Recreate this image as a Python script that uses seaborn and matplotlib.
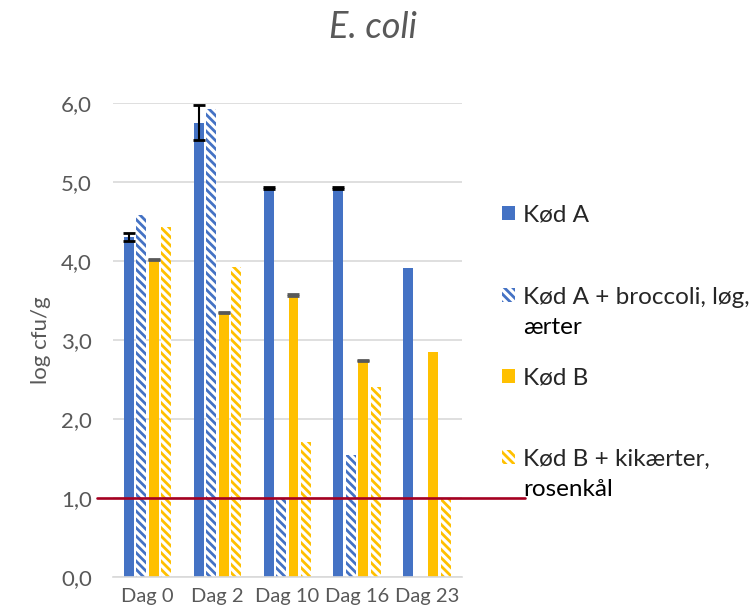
import numpy as np
import pandas as pd
import matplotlib
matplotlib.use("Agg")
import matplotlib.pyplot as plt
import seaborn as sns
from matplotlib.patches import Patch

days = ["Dag 0", "Dag 2", "Dag 10", "Dag 16", "Dag 23"]
series = ["Kød A", "Kød A + broccoli, løg, ærter", "Kød B", "Kød B + kikærter, rosenkål"]
# legend labels wrap the way Excel shows them
label_lines = [["Kød A"], ["Kød A + broccoli, løg,", "ærter"], ["Kød B"],
               ["Kød B + kikærter,", "rosenkål"]]
kod_a = [4.30, 5.75, 4.92, 4.92, 3.91]
kod_a_veg = [4.58, 5.92, 1.00, 1.54, 0.0]
kod_b = [4.02, 3.35, 3.57, 2.74, 2.85]
kod_b_veg = [4.43, 3.92, 1.71, 2.40, 1.00]
err_a = [0.05, 0.22, 0.01, 0.01, 0.0]
err_b = [0.01, 0.01, 0.01, 0.01, 0.0]
limit = 1.0

blue = "#4472C4"
yellow = "#FFC000"
colors = [blue, blue, yellow, yellow]
hatched = [False, True, False, True]
hatch = "\\\\\\\\"

df = pd.DataFrame({
    "day": days * 4,
    "series": np.repeat(series, len(days)),
    "value": kod_a + kod_a_veg + kod_b + kod_b_veg,
})

sns.set_style("white")
plt.rcParams["font.family"] = ["Lato", "DejaVu Sans"]
plt.rcParams["hatch.linewidth"] = 2.0

fig = plt.figure(figsize=(7.51, 6.16), dpi=100)
ax = fig.add_axes([0.150, 0.063, 0.465, 0.770])

sns.barplot(data=df, x="day", y="value", hue="series", hue_order=series,
            palette=colors, width=0.714, gap=0.2, errorbar=None, ax=ax,
            legend=False, saturation=1)

for cont, col, h in zip(ax.containers, colors, hatched):
    for p in cont.patches:
        p.set_linewidth(0)
        if h:
            p.set_facecolor("white")
            p.set_edgecolor(col)
            p.set_hatch(hatch)

# error bars on the plain series
for idx, errs, ecol in [(0, err_a, "black"), (2, err_b, "#595959")]:
    cont = ax.containers[idx]
    for p, e in zip(cont.patches, errs):
        y = p.get_height()
        if y <= 0 or e <= 0:
            continue
        x = p.get_x() + p.get_width() / 2
        ax.errorbar(x, y, yerr=e, fmt="none", ecolor=ecol, elinewidth=1.5,
                    capsize=4.5, capthick=2.0, zorder=5)

ticks = np.arange(0, 6.01, 1.0)
ax.set_ylim(0, 6)
ax.set_xlim(-0.5, 4.5)
ax.set_yticks(ticks)
ax.set_yticklabels([f"{v:.1f}".replace(".", ",") for v in ticks])
ax.yaxis.grid(True, color="#D9D9D9", linewidth=1.2)
ax.set_axisbelow(True)
for s in ["top", "right", "left"]:
    ax.spines[s].set_visible(False)
ax.spines["bottom"].set_color("#D9D9D9")
ax.spines["bottom"].set_linewidth(1.2)
ax.tick_params(axis="y", length=0, labelsize=16, colors="#595959", pad=15)
ax.tick_params(axis="x", length=0, labelsize=14.5, colors="#595959", pad=8)
ax.set_xlabel("")
ax.set_ylabel("log cfu/g", fontsize=16, color="#595959", labelpad=7)

# detection limit
ax.axhline(limit, xmin=-0.046, xmax=1.18, color="#A50021", linewidth=1.9,
           clip_on=False, zorder=6)

fig.text(0.496, 0.955, "E. coli", ha="center", va="center", fontsize=26,
         style="italic", color="#595959")

# legend entries placed one by one (Excel spreads them unevenly)
legend_y = [215, 297, 378, 459]
line_step = 31
text_x = 523 / 751
for lines, col, h, ypix in zip(label_lines, colors, hatched, legend_y):
    if h:
        hd = Patch(facecolor="white", edgecolor=col, hatch=hatch, linewidth=0, label=lines[0])
    else:
        hd = Patch(facecolor=col, linewidth=0, label=lines[0])
    fig.legend(handles=[hd], loc="center left",
               bbox_to_anchor=(502 / 751, 1 - ypix / 616),
               frameon=False, fontsize=17.5, handlelength=0.55,
               handleheight=0.55, handletextpad=0.3, borderpad=0,
               borderaxespad=0)
    for k, extra in enumerate(lines[1:], start=1):
        fig.text(text_x, 1 - (ypix + k * line_step) / 616, extra,
                 ha="left", va="center", fontsize=17.5, color="black")

fig.savefig("out.png", dpi=100)
